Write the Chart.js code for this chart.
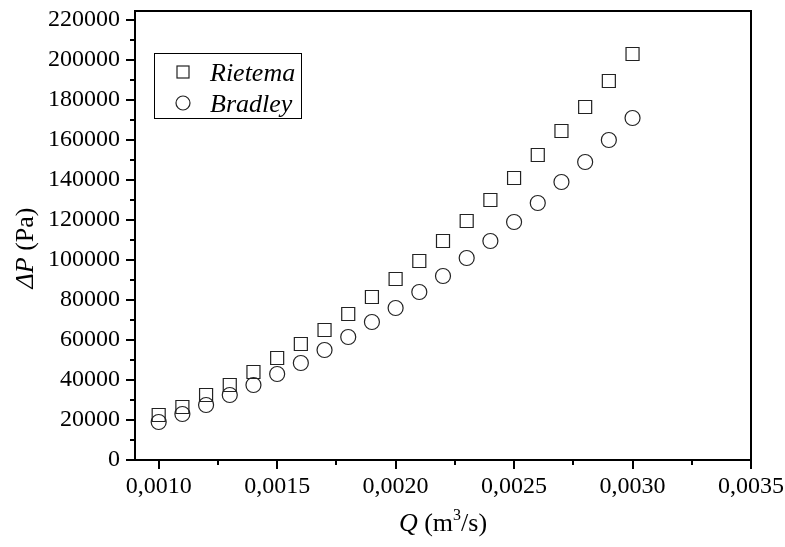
<!DOCTYPE html>
<html>
<head>
<meta charset="utf-8">
<script src="https://cdn.jsdelivr.net/npm/chart.js@4.4.1/dist/chart.umd.min.js"></script>
<style>
  html, body { margin: 0; padding: 0; background: #fff; }
</style>
</head>
<body>
<canvas id="chart" width="785" height="547"></canvas>
<script>
const flowRates = [0.0010, 0.0011, 0.0012, 0.0013, 0.0014, 0.0015, 0.0016, 0.0017, 0.0018, 0.0019, 0.0020,
  0.0021, 0.0022, 0.0023, 0.0024, 0.0025, 0.0026, 0.0027, 0.0028, 0.0029, 0.0030]
const rietema = [22500, 26500, 32500, 37500, 44000, 51000, 58000, 65000, 73000, 81500, 90500,
  99500, 109500, 119500, 130000, 141000, 152500, 164500, 176500, 189500, 203000]
const bradley = [19000, 23000, 27500, 32500, 37500, 43000, 48500, 55000, 61500, 69000, 76000,
  84000, 92000, 101000, 109500, 119000, 128500, 139000, 149000, 160000, 171000]

const xTicks = [0.0010, 0.0015, 0.0020, 0.0025, 0.0030, 0.0035]
const xMinorTicks = [0.00125, 0.00175, 0.00225, 0.00275, 0.00325]
const yTicks = [0, 20000, 40000, 60000, 80000, 100000, 120000, 140000, 160000, 180000, 200000, 220000]
const yMinorTicks = [10000, 30000, 50000, 70000, 90000, 110000, 130000, 150000, 170000, 190000, 210000]

const serif = "'Liberation Serif', 'Times New Roman', serif"

const toPoints = ys => flowRates.map((x, i) => ({ x, y: ys[i] }))

// frame, tick marks, legend box and axis titles
const decorations = {
  id: 'decorations',
  afterDraw(chart) {
    const { ctx, chartArea: a, scales: { x, y } } = chart
    ctx.save()
    ctx.strokeStyle = '#000'
    ctx.lineWidth = 2
    ctx.strokeRect(a.left, a.top, a.right - a.left, a.bottom - a.top)

    ctx.beginPath()
    xTicks.forEach(v => {
      const px = Math.round(x.getPixelForValue(v))
      ctx.moveTo(px, a.bottom); ctx.lineTo(px, a.bottom + 9)
    })
    xMinorTicks.forEach(v => {
      const px = Math.round(x.getPixelForValue(v))
      ctx.moveTo(px, a.bottom); ctx.lineTo(px, a.bottom + 5)
    })
    yTicks.forEach(v => {
      const py = Math.round(y.getPixelForValue(v))
      ctx.moveTo(a.left, py); ctx.lineTo(a.left - 9, py)
    })
    yMinorTicks.forEach(v => {
      const py = Math.round(y.getPixelForValue(v))
      ctx.moveTo(a.left, py); ctx.lineTo(a.left - 5, py)
    })
    ctx.stroke()

    // legend
    ctx.lineWidth = 1
    ctx.strokeRect(154.5, 53.5, 147, 65)
    ctx.strokeStyle = '#222'
    ctx.lineWidth = 1.2
    ctx.strokeRect(177, 66, 12, 12)
    ctx.beginPath()
    ctx.arc(183, 103, 7, 0, Math.PI * 2)
    ctx.stroke()
    ctx.fillStyle = '#000'
    ctx.textBaseline = 'alphabetic'
    ctx.textAlign = 'left'
    ctx.font = `italic 26px ${serif}`
    ctx.fillText('Rietema', 210, 81)
    ctx.fillText('Bradley', 210, 112)

    // y title
    ctx.save()
    ctx.translate(33, 248)
    ctx.rotate(-Math.PI / 2)
    ctx.font = `italic 26px ${serif}`
    const w1 = ctx.measureText('ΔP').width
    ctx.font = `26px ${serif}`
    const w2 = ctx.measureText(' (Pa)').width
    let sx = -(w1 + w2) / 2
    ctx.font = `italic 26px ${serif}`
    ctx.fillText('ΔP', sx, 0)
    ctx.font = `26px ${serif}`
    ctx.fillText(' (Pa)', sx + w1, 0)
    ctx.restore()

    // x title
    const parts = [
      { t: 'Q', f: `italic 26px ${serif}`, dy: 0 },
      { t: ' (m', f: `26px ${serif}`, dy: 0 },
      { t: '3', f: `16px ${serif}`, dy: -11 },
      { t: '/s)', f: `26px ${serif}`, dy: 0 }
    ]
    let total = 0
    parts.forEach(p => { ctx.font = p.f; p.w = ctx.measureText(p.t).width; total += p.w })
    let px = (a.left + a.right) / 2 - total / 2
    parts.forEach(p => {
      ctx.font = p.f
      ctx.fillText(p.t, px, 531 + p.dy)
      px += p.w
    })
    ctx.restore()
  }
}

new Chart(document.getElementById('chart'), {
  type: 'scatter',
  data: {
    datasets: [
      {
        label: 'Rietema',
        data: toPoints(rietema),
        pointStyle: 'rect',
        pointRadius: 9.2,
        pointHoverRadius: 9.2,
        borderColor: '#222',
        borderWidth: 1.2,
        backgroundColor: 'rgba(0,0,0,0)'
      },
      {
        label: 'Bradley',
        data: toPoints(bradley),
        pointStyle: 'circle',
        pointRadius: 7.5,
        pointHoverRadius: 7.5,
        borderColor: '#222',
        borderWidth: 1.2,
        backgroundColor: 'rgba(0,0,0,0)'
      }
    ]
  },
  options: {
    responsive: false,
    animation: false,
    devicePixelRatio: 1,
    layout: { padding: { left: 0, top: 11, right: 34, bottom: 0 } },
    plugins: { legend: { display: false }, tooltip: { enabled: false } },
    scales: {
      x: {
        type: 'linear',
        min: 0.0009,
        max: 0.0035,
        grid: { display: false, drawTicks: false },
        border: { display: false },
        afterBuildTicks: s => { s.ticks = xTicks.map(v => ({ value: v })) },
        afterFit: s => { s.height = 87; s.paddingLeft = 0; s.paddingRight = 0 },
        ticks: {
          color: '#000',
          padding: 12,
          maxRotation: 0,
          autoSkip: false,
          font: { family: serif, size: 24 },
          callback: v => v.toFixed(4).replace('.', ',')
        }
      },
      y: {
        type: 'linear',
        min: 0,
        max: 224500,
        grid: { display: false, drawTicks: false },
        border: { display: false },
        afterBuildTicks: s => { s.ticks = yTicks.map(v => ({ value: v })) },
        afterFit: s => { s.width = 135; s.paddingTop = 0; s.paddingBottom = 0 },
        ticks: {
          color: '#000',
          padding: 15,
          autoSkip: false,
          font: { family: serif, size: 24 },
          callback: v => String(v)
        }
      }
    }
  },
  plugins: [decorations]
})
</script>
</body>
</html>
